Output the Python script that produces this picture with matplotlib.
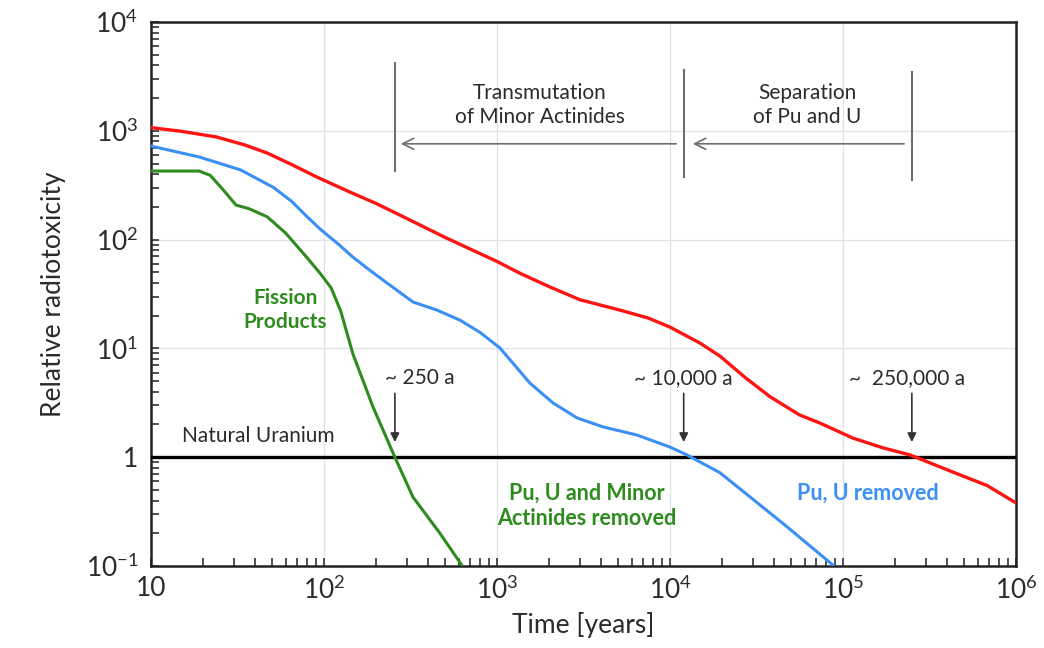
import matplotlib
matplotlib.use('Agg')
import matplotlib.pyplot as plt

# ---- fonts ----
plt.rcParams['font.family'] = ['Lato', 'DejaVu Sans']
plt.rcParams['mathtext.fontset'] = 'custom'
plt.rcParams['mathtext.rm'] = 'Lato'
plt.rcParams['mathtext.it'] = 'Lato:italic'
plt.rcParams['mathtext.bf'] = 'Lato:bold'
plt.rcParams['mathtext.default'] = 'rm'

# ---- data ----
red_t = [10, 15, 24, 35, 47, 65, 91, 141, 200, 275, 500, 1000, 1360, 2000, 3020,
         5140, 7500, 10000, 14900, 19450, 27200, 37840, 56000, 73600, 114000,
         170000, 244000, 432000, 680000, 1000000]
red_v = [1070, 990, 877, 740, 625, 490, 376, 274, 215, 168, 105, 63, 49, 37, 28,
         22.5, 19, 15.7, 11.2, 8.5, 5.4, 3.6, 2.45, 2.06, 1.5, 1.22, 1.05, 0.73,
         0.55, 0.38]

blue_t = [10, 19, 33, 51, 65, 80, 95, 120, 147, 185, 231, 280, 327, 450, 611,
          800, 1040, 1550, 2110, 2900, 4100, 6440, 10000, 12530, 19450, 30200,
          47400, 87500]
blue_v = [725, 575, 437, 302, 225, 162, 125, 92, 69, 52, 40, 32, 26.7, 22.5, 18.2,
          14, 10.1, 4.8, 3.15, 2.3, 1.9, 1.6, 1.24, 1.05, 0.72, 0.41, 0.23, 0.102]

green_t = [10, 19, 22, 26, 31, 37, 47, 60, 80, 95, 110, 125, 147, 192, 257, 327,
           468, 631]
green_v = [427, 427, 390, 290, 208, 192, 162, 115, 68, 49, 36, 22, 8.9, 2.9, 1.0,
           0.43, 0.2, 0.1]

natural_uranium = 1.0

x_ticks = [10, 1e2, 1e3, 1e4, 1e5, 1e6]
x_labels = ['10', '$10^{2}$', '$10^{3}$', '$10^{4}$', '$10^{5}$', '$10^{6}$']
y_ticks = [0.1, 1, 10, 100, 1000, 10000]
y_labels = ['$10^{-1}$', '1', '$10^{1}$', '$10^{2}$', '$10^{3}$', '$10^{4}$']

# crossing times with natural uranium
t_fp, t_ma, t_pu = 257, 12000, 250000

C_RED = '#FF1414'
C_BLUE = '#3B8FF5'
C_GREEN = '#2E8B1E'
C_TXT = '#2b2b2b'
C_GRAY = '#6e6e6e'

fig = plt.figure(figsize=(10.44, 6.48), dpi=100, facecolor='white')
ax = fig.add_axes([0.1446, 0.1265, 0.8286, 0.8395])

ax.set_xscale('log')
ax.set_yscale('log')
ax.set_xlim(10, 1e6)
ax.set_ylim(0.1, 1e4)

ax.grid(True, which='major', color='#dde4e8', lw=0.9)
ax.set_axisbelow(True)

# curves
ax.plot(red_t, red_v, color=C_RED, lw=2.4, solid_joinstyle='round', zorder=4)
ax.plot(blue_t, blue_v, color=C_BLUE, lw=2.2, solid_joinstyle='round', zorder=4)
ax.plot(green_t, green_v, color=C_GREEN, lw=2.2, solid_joinstyle='round', zorder=4)
ax.axhline(natural_uranium, color='black', lw=2.4, zorder=3)

# ticks
ax.set_xticks(x_ticks)
ax.set_xticklabels(x_labels)
ax.set_yticks(y_ticks)
ax.set_yticklabels(y_labels)
ax.tick_params(which='both', direction='in', length=6, width=1.1, color='#222222',
               top=False, right=False)
ax.tick_params(axis='both', which='major', labelsize=19, labelcolor=C_TXT)
ax.tick_params(axis='y', which='major', pad=9)
ax.tick_params(axis='x', which='major', pad=7)
for s in ax.spines.values():
    s.set_linewidth(1.8)
    s.set_color('#222222')

ax.set_xlabel('Time [years]', fontsize=19, color=C_TXT, labelpad=6)
ax.set_ylabel('Relative radiotoxicity', fontsize=19, color=C_TXT, labelpad=14)

# ---- separators and region arrows ----
for t, y0, y1 in [(t_fp, 427, 4200), (t_ma, 376, 3630), (t_pu, 350, 3450)]:
    ax.plot([t, t], [y0, y1], color=C_GRAY, lw=1.5, zorder=5)

ax.annotate('', xy=(268, 760), xytext=(11270, 760),
            arrowprops=dict(arrowstyle='->', color=C_GRAY, lw=1.2, mutation_scale=20))
ax.annotate('', xy=(13060, 760), xytext=(234000, 760),
            arrowprops=dict(arrowstyle='->', color=C_GRAY, lw=1.2, mutation_scale=20))

ax.text(1775, 1725, 'Transmutation\nof Minor Actinides', ha='center', va='center',
        fontsize=15, color=C_TXT, linespacing=1.25)
ax.text(62000, 1725, 'Separation\nof Pu and U', ha='center', va='center',
        fontsize=15, color=C_TXT, linespacing=1.25)

# ---- crossing markers ----
for t, label, lx in [(t_fp, '~ 250 a', 359), (t_ma, '~ 10,000 a', 12000),
                     (t_pu, '~  250,000 a', 235000)]:
    ax.annotate('', xy=(t, 1.3), xytext=(t, 4.1),
                arrowprops=dict(arrowstyle='-|>', color='#333333', lw=1.2,
                                mutation_scale=13))
    ax.text(lx, 5.35, label, ha='center', va='center', fontsize=15, color=C_TXT)

ax.text(41.5, 1.57, 'Natural Uranium', ha='center', va='center',
        fontsize=15, color=C_TXT)

# ---- curve labels ----
ax.text(60, 22.5, 'Fission\nProducts', ha='center', va='center', fontsize=15,
        fontweight='bold', color=C_GREEN, linespacing=1.25)
ax.text(3300, 0.36, 'Pu, U and Minor\nActinides removed', ha='center', va='center',
        fontsize=15.5, fontweight='bold', color=C_GREEN, linespacing=1.25)
ax.text(140000, 0.47, 'Pu, U removed', ha='center', va='center', fontsize=15.5,
        fontweight='bold', color=C_BLUE)

fig.savefig('out.png', dpi=100, facecolor='white')
